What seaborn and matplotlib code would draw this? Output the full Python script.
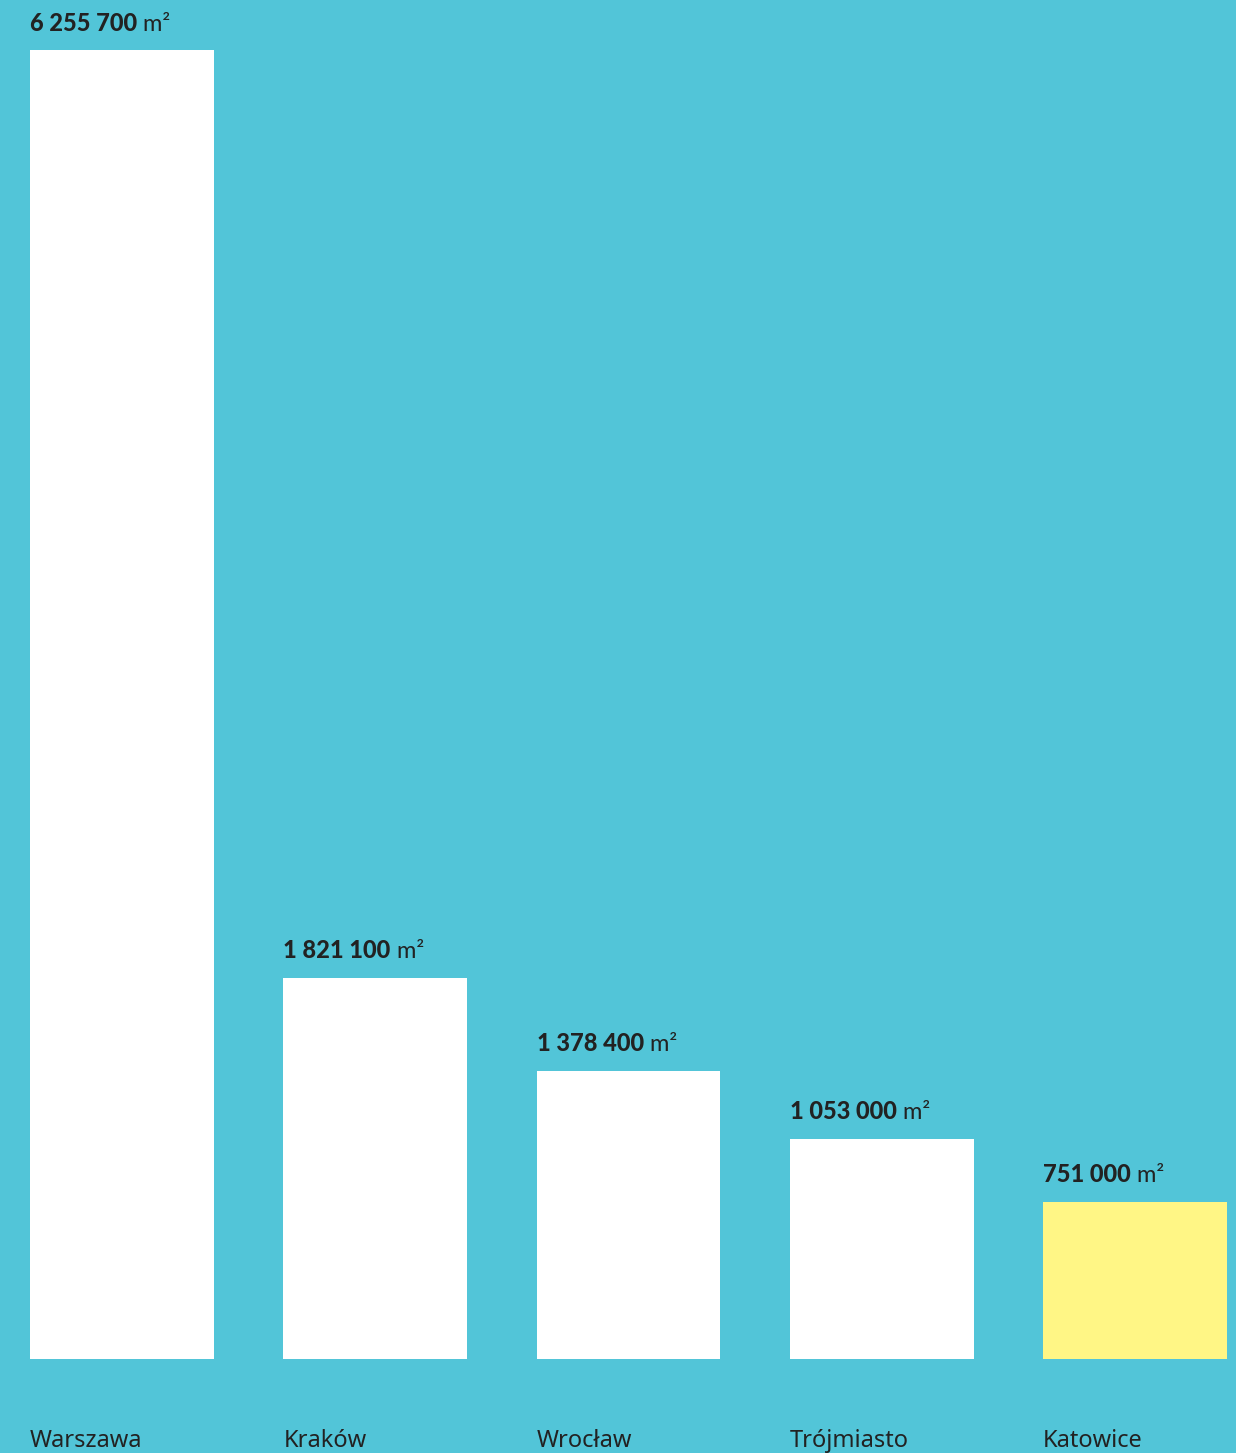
import pandas as pd
import matplotlib
matplotlib.use('Agg')
import matplotlib.pyplot as plt
import matplotlib.transforms as mtransforms
import seaborn as sns

# dane
miasta = ['Warszawa', 'Kraków', 'Wrocław', 'Trójmiasto', 'Katowice']
powierzchnia = [6255700, 1821100, 1378400, 1053000, 751000]
etykiety = ['6 255 700', '1 821 100', '1 378 400', '1 053 000', '751 000']
kolory = ['#ffffff', '#ffffff', '#ffffff', '#ffffff', '#fff685']

tlo = '#52c5d8'
tekst = '#222222'

sns.set_theme(style='white')
plt.rcParams['font.family'] = ['Noto Sans', 'DejaVu Sans']

df = pd.DataFrame({'miasto': miasta, 'pow': powierzchnia})

fig = plt.figure(figsize=(12.36, 14.53), dpi=100)
fig.patch.set_facecolor(tlo)
ax = fig.add_axes([30 / 1236, 94 / 1453, 1197 / 1236, 1309 / 1453])
ax.set_facecolor(tlo)

szer = 0.7264
sns.barplot(data=df, x='miasto', y='pow', hue='miasto', palette=kolory,
            width=szer, legend=False, saturation=1, ax=ax)
for p in ax.patches:
    p.set_edgecolor('none')

ax.set_xlim(-szer / 2, len(miasta) - 1 + szer / 2)
ax.set_ylim(0, max(powierzchnia))
ax.axis('off')

fig.canvas.draw()
trans = mtransforms.blended_transform_factory(ax.transData, ax.transAxes)
for i, (v, lab) in enumerate(zip(powierzchnia, etykiety)):
    x0 = i - szer / 2
    t = ax.annotate(lab, xy=(x0, v), xytext=(0, 14), textcoords='offset points',
                    ha='left', va='baseline', fontsize=17, fontweight='black',
                    family=['Lato', 'DejaVu Sans'], color=tekst)
    ax.annotate(' m²', xy=(1, 0), xycoords=t, ha='left', va='bottom',
                fontsize=17, family=['Lato', 'DejaVu Sans'], color=tekst)
    ax.text(x0, -0.067, miasta[i], transform=trans, ha='left', va='baseline',
            fontsize=17, color=tekst)

fig.savefig('out.png', dpi=100, facecolor=tlo)
